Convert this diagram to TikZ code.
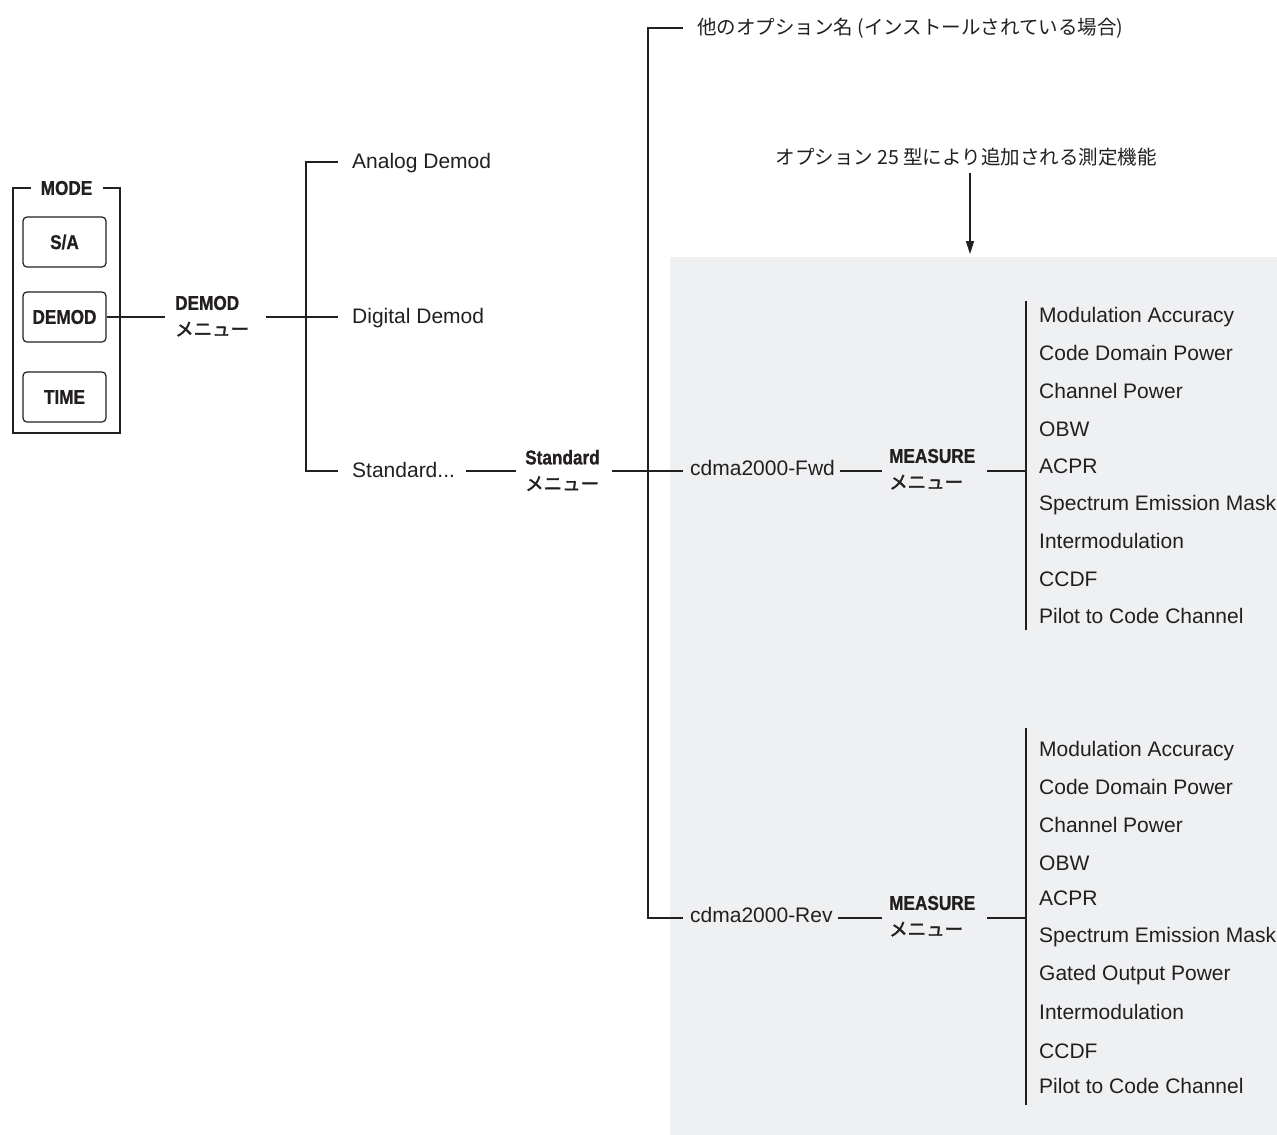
\documentclass[tikz,border=0pt]{standalone}
\usepackage{fontspec}
\setmainfont{Liberation Sans}
\newfontfamily\cond{Liberation Sans}[UprightFont={* Bold}, FakeStretch=0.86, FakeBold=0.8]
\newfontfamily\jp{Noto Sans CJK JP}
\newfontfamily\jpb{Noto Sans CJK JP}[FakeBold=1.8]
\usetikzlibrary{arrows.meta,calc}
\definecolor{panelgray}{HTML}{EFF0F2}
\definecolor{ink}{HTML}{231F20}
\begin{document}
\begin{tikzpicture}[x=1pt,y=-1pt,
  ln/.style={draw=ink,line width=1.8pt},
  arr/.style={draw=ink,line width=1.5pt,-{Triangle[length=13pt,width=8pt]}},
  txt/.style={font=\fontsize{21}{25}\selectfont,text=ink,inner sep=0pt},
  item/.style={txt,anchor=base west},
  rail/.style={txt,anchor=west,text height=14pt,text depth=5pt},
  trail/.style={txt,anchor=west,text height=15pt,text depth=3pt},
  jtxt/.style={font=\jp\fontsize{19.5}{24}\selectfont,text=ink,inner sep=0pt},
  menulbl/.style={align=left,inner sep=0pt,anchor=north west,text=ink,font=\fontsize{20}{26}\selectfont},
  btn/.style={draw=ink,line width=1.2pt,rounded corners=4pt,minimum width=83pt,minimum height=50pt,inner sep=0pt,font=\cond\fontsize{20}{24}\selectfont,text=ink},
]
\fill[white] (0,0) rectangle (1277,1135);
\useasboundingbox (0,0) rectangle (1277,1135);

% grey panel
\node[fill=panelgray,inner sep=0pt,minimum width=607pt,minimum height=878pt,anchor=north west] (panel) at (670,257) {};

% MODE box
\node[font=\cond\fontsize{20}{24}\selectfont,text=ink,inner xsep=10pt,inner ysep=0pt] (mode) at (66.5,188) {MODE};
\draw[ln] (mode.west) -| (13,433) -| (120,188) -- (mode.east);
\node[btn] (bsa) at (64.5,242) {S/A};
\node[btn] (bdm) at (64.5,317) {DEMOD};
\node[btn] (btm) at (64.5,397) {TIME};

% DEMOD menu
\node[menulbl] (dml) at (175,295.7) {{\cond DEMOD}\\{\jpb\fontsize{18.5}{26}\selectfont メニュー}};
\draw[ln] (bdm.east) -- ($(bdm.east -| dml.west)+(-10,0)$);

\node[trail] (ana) at (352,162) {Analog Demod};
\node[trail] (dig) at (352,317) {Digital Demod};
\node[trail] (std) at (352,471) {Standard...};
\draw[ln] ($(ana.west)+(-14,0)$) -| ($(std.west)+(-46,0)$) -- ($(std.west)+(-14,0)$);
\draw[ln] ($(dml.east |- bdm.east)+(17,0)$) -- ($(dig.west)+(-14,0)$);

% Standard menu
\node[menulbl] (sml) at (525,449.7) {{\cond Standard}\\{\jpb\fontsize{18.5}{26}\selectfont メニュー}};
\draw[ln] ($(std.east)+(11,0)$) -- ($(std.east -| sml.west)+(-9,0)$);

\node[rail] (fwd) at (690,471) {cdma2000-Fwd};
\node[rail] (rev) at (690,918) {cdma2000-Rev};
\node[jtxt,anchor=west] (oth) at (697,28) {他のオプション名 (インストールされている場合)};
\draw[ln] ($(sml.east |- std.east)+(12,0)$) -- ($(fwd.west)+(-7,0)$);
\draw[ln] ($(oth.west)+(-14,0)$) -| ($(rev.west)+(-42,0)$) -- ($(rev.west)+(-7,0)$);

% option 25 note
\node[jtxt] (o25) at (966,157) {オプション 25 型により追加される測定機能};
\draw[arr] ($(o25.south)+(4,7)$) -- ($(o25.south |- panel.north)+(4,-3)$);

% MEASURE menus
\node[menulbl] (m1) at (889,448.7) {{\cond MEASURE}\\{\jpb\fontsize{18.5}{26}\selectfont メニュー}};
\node[menulbl] (m2) at (889,895.7) {{\cond MEASURE}\\{\jpb\fontsize{18.5}{26}\selectfont メニュー}};
\draw[ln] ($(fwd.east)+(5,0)$) -- ($(fwd.east -| m1.west)+(-7,0)$);
\draw[ln] ($(rev.east)+(5,0)$) -- ($(rev.east -| m2.west)+(-7,0)$);

% forward list
\node[item] (f1) at (1039,322) {Modulation Accuracy};
\node[item] (f2) at (1039,360) {Code Domain Power};
\node[item] (f3) at (1039,398) {Channel Power};
\node[item] (f4) at (1039,436) {OBW};
\node[item] (f5) at (1039,473) {ACPR};
\node[item] (f6) at (1039,510) {Spectrum Emission Mask};
\node[item] (f7) at (1039,548) {Intermodulation};
\node[item] (f8) at (1039,586) {CCDF};
\node[item] (f9) at (1039,623) {Pilot to Code Channel};
\draw[ln] ($(f1.base west)+(-13,-21)$) -- ($(f9.base west)+(-13,7)$);
\draw[ln] ($(m1.east |- fwd.east)+(12,0)$) -- ($(f1.west |- fwd.east)+(-13,0)$);

% reverse list
\node[item] (r1) at (1039,756) {Modulation Accuracy};
\node[item] (r2) at (1039,794) {Code Domain Power};
\node[item] (r3) at (1039,832) {Channel Power};
\node[item] (r4) at (1039,870) {OBW};
\node[item] (r5) at (1039,905) {ACPR};
\node[item] (r6) at (1039,942) {Spectrum Emission Mask};
\node[item] (r7) at (1039,980) {Gated Output Power};
\node[item] (r8) at (1039,1019) {Intermodulation};
\node[item] (r9) at (1039,1058) {CCDF};
\node[item] (r10) at (1039,1093) {Pilot to Code Channel};
\draw[ln] ($(r1.base west)+(-13,-28)$) -- ($(r10.base west)+(-13,12)$);
\draw[ln] ($(m2.east |- rev.east)+(12,0)$) -- ($(r1.west |- rev.east)+(-13,0)$);
\end{tikzpicture}
\end{document}
